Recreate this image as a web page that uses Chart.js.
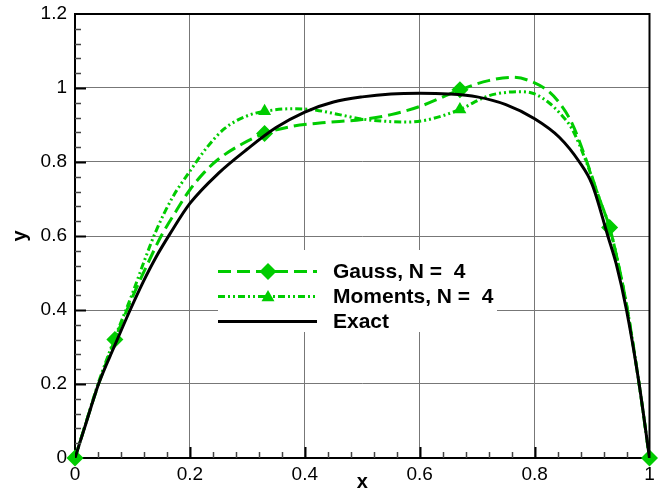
<!DOCTYPE html>
<html><head><meta charset="utf-8">
<script src="https://cdn.jsdelivr.net/npm/chart.js@4.4.1/dist/chart.umd.min.js"></script>
<style>html,body{margin:0;padding:0;background:#fff;} canvas{display:block;}</style>
</head><body>
<canvas id="c" width="658" height="489"></canvas>
<script>
// ---------- data ----------
const xTickValues = [0, 0.2, 0.4, 0.6, 0.8, 1];
const xTickLabels = ['0', '0.2', '0.4', '0.6', '0.8', '1'];
const yTickValues = [0, 0.2, 0.4, 0.6, 0.8, 1, 1.2];
const yTickLabels = ['0', '0.2', '0.4', '0.6', '0.8', '1', '1.2'];
const legendLabels = ['Gauss, N =  4', 'Moments, N =  4', 'Exact'];
const axisTitles = ['x', 'y'];

const exactX = [0, 0.02, 0.041, 0.068, 0.096, 0.12, 0.14, 0.165, 0.2, 0.25, 0.3, 0.35, 0.4, 0.45, 0.5, 0.55, 0.6, 0.65, 0.7, 0.75, 0.8, 0.843, 0.878, 0.9, 0.9275, 0.942, 0.96, 0.981, 1];
const exactY = [0, 0.098, 0.2, 0.3, 0.4, 0.48, 0.54, 0.605, 0.688, 0.77, 0.835, 0.893, 0.935, 0.962, 0.976, 0.984, 0.986, 0.984, 0.976, 0.955, 0.917, 0.867, 0.8, 0.74, 0.6, 0.525, 0.4, 0.21, 0];

const gaussX = [0, 0.02, 0.04, 0.0694, 0.1, 0.125, 0.15, 0.175, 0.2, 0.225, 0.25, 0.29, 0.33, 0.38, 0.43, 0.5, 0.55, 0.6, 0.67, 0.72, 0.762, 0.8, 0.825, 0.845, 0.865, 0.89, 0.913, 0.9306, 0.945, 0.96, 0.98, 1];
const gaussY = [0, 0.1, 0.195, 0.32, 0.435, 0.52, 0.6, 0.665, 0.725, 0.772, 0.808, 0.848, 0.877, 0.897, 0.906, 0.915, 0.928, 0.95, 0.995, 1.02, 1.029, 1.014, 0.99, 0.956, 0.905, 0.805, 0.7, 0.623, 0.53, 0.415, 0.22, 0];

const momentsX = [0, 0.02, 0.04, 0.0694, 0.1, 0.12, 0.14, 0.17, 0.2, 0.23, 0.26, 0.3, 0.33, 0.38, 0.42, 0.46, 0.5, 0.54, 0.58, 0.61, 0.64, 0.67, 0.72, 0.75, 0.775, 0.8, 0.825, 0.845, 0.865, 0.89, 0.913, 0.9306, 0.945, 0.96, 0.98, 1];
const momentsY = [0, 0.1, 0.2, 0.325, 0.445, 0.53, 0.61, 0.705, 0.775, 0.84, 0.89, 0.925, 0.937, 0.944, 0.94, 0.928, 0.916, 0.91, 0.908, 0.913, 0.925, 0.942, 0.979, 0.988, 0.99, 0.984, 0.96, 0.93, 0.89, 0.8, 0.7, 0.623, 0.53, 0.415, 0.22, 0];

const gaussNodesX = [0, 0.0694, 0.33, 0.67, 0.9306, 1];
const gaussNodesY = [0, 0.32, 0.877, 0.995, 0.623, 0];
const momentsNodesX = [0.33, 0.67];
const momentsNodesY = [0.937, 0.942];

// ---------- style ----------
const GREEN = '#00cc00';
const FONT = '"Liberation Sans", Arial, Helvetica, sans-serif';
const gaussDash = [13, 6];
const momentsDash = [7, 3, 2, 3, 2, 3];

const toPts = (xs, ys) => xs.map((x, i) => ({x: x, y: ys[i]}));

function diamond(ctx, x, y, r) {
  ctx.beginPath();
  ctx.moveTo(x - r, y); ctx.lineTo(x, y - r); ctx.lineTo(x + r, y); ctx.lineTo(x, y + r);
  ctx.closePath(); ctx.fill();
}
function triangle(ctx, x, y, r) {
  ctx.beginPath();
  for (let k = 0; k < 3; k++) {
    const a = k * 2 * Math.PI / 3;
    const px = x + Math.sin(a) * r, py = y - Math.cos(a) * r;
    if (k === 0) ctx.moveTo(px, py); else ctx.lineTo(px, py);
  }
  ctx.closePath(); ctx.fill();
}

const decor = {
  id: 'decor',
  afterDraw(chart) {
    const {ctx, chartArea: a, scales: {x, y}} = chart;
    ctx.save();
    // top & right frame
    ctx.strokeStyle = '#000'; ctx.lineWidth = 2; ctx.setLineDash([]);
    ctx.beginPath(); ctx.moveTo(a.left, a.top); ctx.lineTo(a.right, a.top); ctx.lineTo(a.right, a.bottom); ctx.stroke();
    // inward ticks (major every 0.2, minor every 0.04)
    for (let i = 1; i < 25; i++) {
      const px = Math.round(x.getPixelForValue(i * 0.04)) + 0.5;
      const major = i % 5 === 0;
      ctx.strokeStyle = major ? '#000' : '#444';
      ctx.lineWidth = major ? 2 : 1.5;
      ctx.beginPath(); ctx.moveTo(px, a.bottom); ctx.lineTo(px, a.bottom - (major ? 11 : 6)); ctx.stroke();
    }
    for (let i = 1; i < 30; i++) {
      const py = Math.round(y.getPixelForValue(i * 0.04)) + 0.5;
      const major = i % 5 === 0;
      ctx.strokeStyle = major ? '#000' : '#444';
      ctx.lineWidth = major ? 2 : 1.5;
      ctx.beginPath(); ctx.moveTo(a.left, py); ctx.lineTo(a.left + (major ? 11 : 6), py); ctx.stroke();
    }
    // legend
    const box = {x: 218, y: 250, w: 279, h: 82};
    ctx.fillStyle = '#fff';
    ctx.fillRect(box.x, box.y, box.w, box.h);
    const rows = [271.5, 296.5, 321.5];
    const x1 = 218, x2 = 317, xm = 268, xt = 333;
    const styles = [
      {color: GREEN, dash: gaussDash, marker: 'diamond'},
      {color: GREEN, dash: momentsDash, marker: 'triangle'},
      {color: '#000', dash: [], marker: null}
    ];
    styles.forEach((s, i) => {
      ctx.strokeStyle = s.color; ctx.lineWidth = 3; ctx.setLineDash(s.dash);
      ctx.beginPath(); ctx.moveTo(x1, rows[i]); ctx.lineTo(x2, rows[i]); ctx.stroke();
      ctx.setLineDash([]);
      ctx.fillStyle = s.color;
      if (s.marker === 'diamond') diamond(ctx, xm, rows[i], 8.5);
      if (s.marker === 'triangle') triangle(ctx, xm, rows[i] + 1, 7.5);
      ctx.fillStyle = '#000';
      ctx.font = 'bold 21px ' + FONT;
      ctx.textBaseline = 'middle'; ctx.textAlign = 'left';
      ctx.fillText(legendLabels[i], xt, rows[i] + 1);
    });
    ctx.restore();
  }
};

new Chart(document.getElementById('c').getContext('2d'), {
  type: 'scatter',
  data: {
    datasets: [
      {label: legendLabels[2], data: toPts(exactX, exactY), showLine: true, borderColor: '#000', borderWidth: 3,
       pointRadius: 0, cubicInterpolationMode: 'monotone', fill: false},
      {label: legendLabels[0] + ' nodes', data: toPts(gaussNodesX, gaussNodesY), showLine: false,
       pointStyle: 'rectRot', pointRadius: 8.5, pointBackgroundColor: GREEN, pointBorderWidth: 0, pointBorderColor: GREEN, clip: false},
      {label: legendLabels[1] + ' nodes', data: toPts(momentsNodesX, momentsNodesY), showLine: false,
       pointStyle: 'triangle', pointRadius: 7.5, pointBackgroundColor: GREEN, pointBorderWidth: 0, pointBorderColor: GREEN, clip: false},
      {label: legendLabels[0], data: toPts(gaussX, gaussY), showLine: true, borderColor: GREEN, borderWidth: 3,
       borderDash: gaussDash, pointRadius: 0, cubicInterpolationMode: 'monotone', fill: false},
      {label: legendLabels[1], data: toPts(momentsX, momentsY), showLine: true, borderColor: GREEN, borderWidth: 3,
       borderDash: momentsDash, pointRadius: 0, cubicInterpolationMode: 'monotone', fill: false}
    ]
  },
  options: {
    responsive: false, animation: false, devicePixelRatio: 1,
    layout: {padding: {top: 14, right: 7, left: 0, bottom: 0}},
    plugins: {legend: {display: false}, tooltip: {enabled: false}},
    scales: {
      x: {
        type: 'linear', position: 'bottom', min: 0, max: 1,
        afterBuildTicks: s => { s.ticks = xTickValues.map(v => ({value: v})); },
        afterFit: s => { s.height = 31; s.paddingLeft = 0; s.paddingRight = 0; },
        ticks: {callback: (v, i) => xTickLabels[i], font: {family: FONT, size: 19}, color: '#000', padding: 5, maxRotation: 0, autoSkip: false},
        grid: {color: '#777', lineWidth: 1, drawTicks: false},
        border: {color: '#000', width: 2},
        title: {display: true, text: axisTitles[0], color: '#000', font: {family: FONT, size: 20, weight: 'bold'}, padding: {top: 0, bottom: -5}}
      },
      y: {
        type: 'linear', position: 'left', min: 0, max: 1.2,
        afterBuildTicks: s => { s.ticks = yTickValues.map(v => ({value: v})); },
        afterFit: s => { s.width = 75; s.paddingTop = 0; s.paddingBottom = 0; },
        ticks: {callback: (v, i) => yTickLabels[i], font: {family: FONT, size: 19}, color: '#000', padding: 8, autoSkip: false},
        grid: {color: '#777', lineWidth: 1, drawTicks: false},
        border: {color: '#000', width: 2},
        title: {display: true, text: axisTitles[1], color: '#000', font: {family: FONT, size: 20, weight: 'bold'}, padding: {top: 8, bottom: 0}}
      }
    }
  },
  plugins: [decor]
});
</script>
</body></html>
